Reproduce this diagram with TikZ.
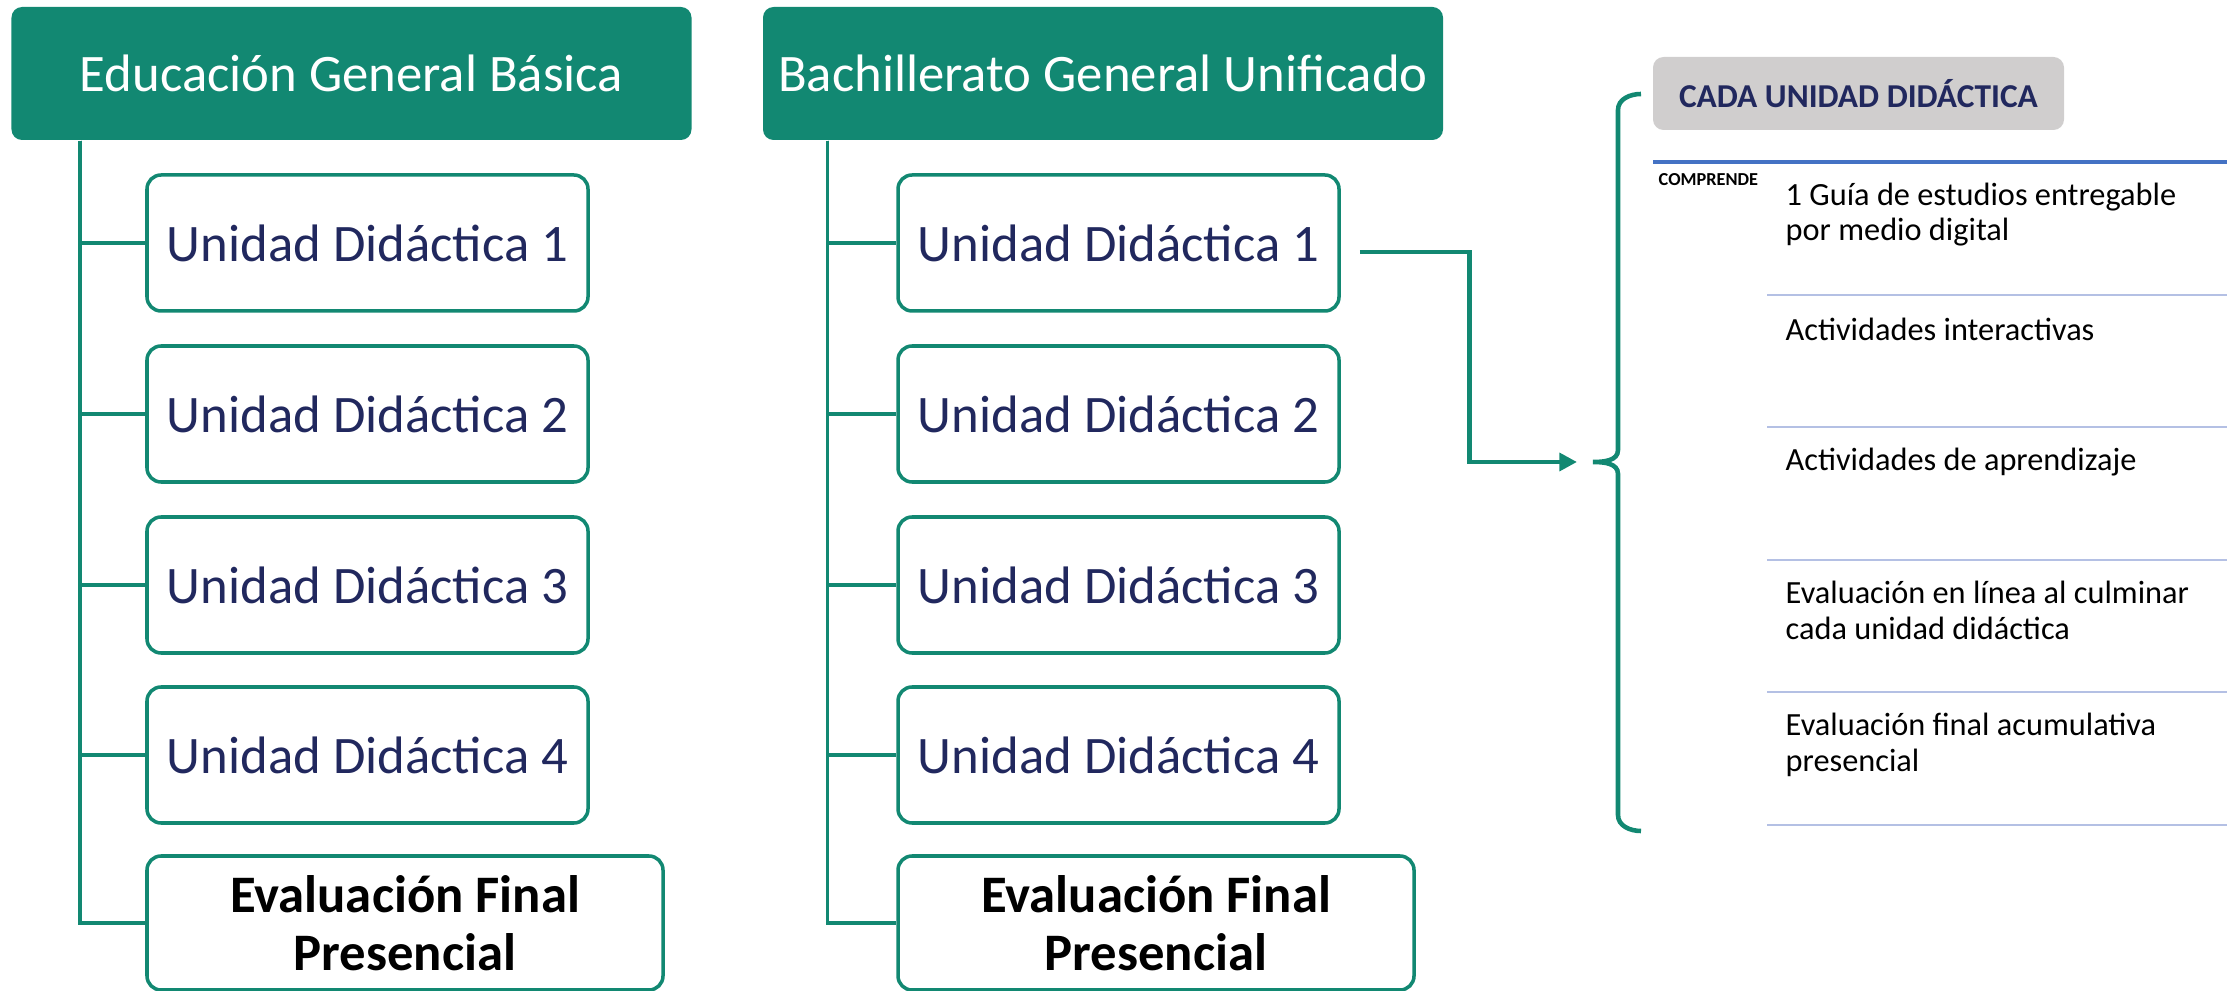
\documentclass[tikz,border=0pt]{standalone}
\usepackage{fontspec}
\setmainfont{Carlito}
\usetikzlibrary{arrows.meta}
\definecolor{verde}{RGB}{18,136,114}
\definecolor{azuloscuro}{RGB}{33,40,94}
\definecolor{gris}{RGB}{208,206,206}
\definecolor{azul}{RGB}{68,114,196}
\definecolor{lila}{RGB}{180,192,228}

\begin{document}
\begin{tikzpicture}[
  titulo/.style={fill=verde, rounded corners=3pt, text=white, font=\fontsize{15}{18}\selectfont, minimum width=6.8cm, minimum height=1.33cm, inner sep=0pt},
  unidad/.style={draw=verde, line width=1pt, rounded corners=4pt, fill=white, text=azuloscuro, font=\fontsize{15}{18}\selectfont, minimum width=4.41cm, minimum height=1.36cm, inner sep=0pt},
  final/.style={unidad, text=black, font=\fontsize{15}{16.5}\selectfont\bfseries, align=center, minimum width=5.16cm, minimum height=1.34cm},
  rama/.style={verde, line width=1pt},
  item/.style={anchor=west, align=left, inner sep=0pt, font=\fontsize{9.2}{10.2}\selectfont},
  separa/.style={lila, line width=0.8pt}
]
\useasboundingbox (0,0) rectangle (22.34,-9.91);

\node[titulo] (egb) at (3.515,-0.735) {Educación General Básica};
\node[unidad] (u1) at (3.675,-2.43) {Unidad Didáctica 1};
\node[unidad] (u2) at (3.675,-4.14) {Unidad Didáctica 2};
\node[unidad] (u3) at (3.675,-5.85) {Unidad Didáctica 3};
\node[unidad] (u4) at (3.675,-7.55) {Unidad Didáctica 4};
\node[final] (f1) at (4.05,-9.23) {Evaluación Final\\Presencial};
\foreach \n in {u1,u2,u3,u4,f1}
  \draw[rama] ([xshift=0.69cm]egb.south west) |- (\n.west);

\node[titulo] (bgu) at (11.03,-0.735) {Bachillerato General Unificado};
\node[unidad] (r1) at (11.185,-2.43) {Unidad Didáctica 1};
\node[unidad] (r2) at (11.185,-4.14) {Unidad Didáctica 2};
\node[unidad] (r3) at (11.185,-5.85) {Unidad Didáctica 3};
\node[unidad] (r4) at (11.185,-7.55) {Unidad Didáctica 4};
\node[final] (f2) at (11.56,-9.23) {Evaluación Final\\Presencial};
\foreach \n in {r1,r2,r3,r4,f2}
  \draw[rama] ([xshift=0.65cm]bgu.south west) |- (\n.west);

\coordinate (punta) at (15.77,-4.62);
\draw[rama, line width=1.3pt, -{Triangle[length=5pt,width=5pt]}] ([xshift=0.19cm,yshift=-0.09cm]r1.east) -- ++(1.1,0) |- (punta);

\draw[rama, line width=1.3pt] (16.41,-0.94) to[out=180,in=90] (16.18,-1.10) -- (16.18,-4.50)
  to[out=-90,in=0] (15.93,-4.62) to[out=0,in=90] (16.18,-4.74) -- (16.18,-8.15) to[out=-90,in=180] (16.41,-8.31);

\node[fill=gris, rounded corners=3pt, text=azuloscuro, font=\fontsize{9.5}{11}\selectfont\bfseries, minimum width=4.11cm, minimum height=0.73cm] (cada) at (18.585,-0.935) {CADA UNIDAD DIDÁCTICA};
\draw[azul, line width=1.1pt] (16.53,-1.62) -- (22.27,-1.62);
\node[anchor=west, inner sep=0pt, font=\fontsize{5.2}{6}\selectfont\bfseries] (comp) at (16.58,-1.80) {COMPRENDE};

\node[item] (i1) at (17.85,-2.145) {1 Guía de estudios entregable\\por medio digital};
\node[item] (i2) at (17.85,-3.29) {Actividades interactivas};
\node[item] (i3) at (17.85,-4.62) {Actividades de aprendizaje};
\node[item] (i4) at (17.85,-6.10) {Evaluación en línea al culminar\\cada unidad didáctica};
\node[item] (i5) at (17.85,-7.45) {Evaluación final acumulativa\\presencial};
\foreach \y in {2.95,4.27,5.60,6.92,8.25}
  \draw[separa] (17.67,-\y) -- (22.27,-\y);
\end{tikzpicture}
\end{document}
